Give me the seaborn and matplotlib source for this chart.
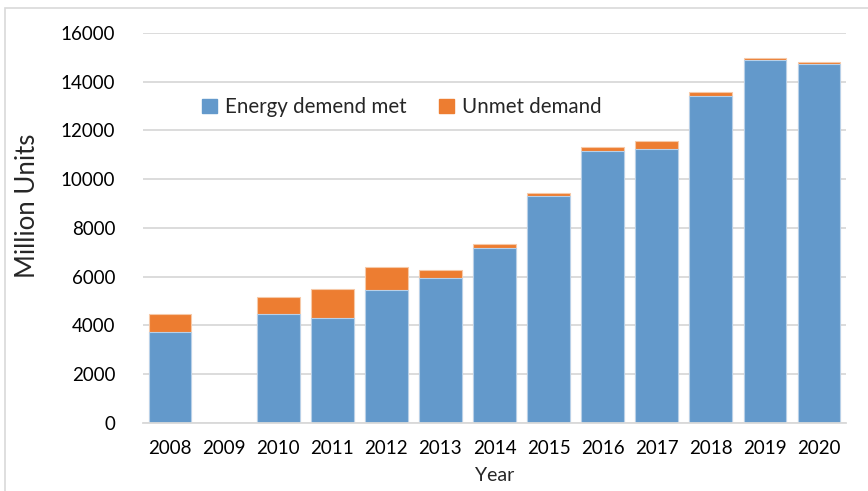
import matplotlib
matplotlib.use('Agg')
import matplotlib.pyplot as plt
import matplotlib.patches as mpatches
import seaborn as sns
import pandas as pd

years = ['2008', '2009', '2010', '2011', '2012', '2013', '2014',
         '2015', '2016', '2017', '2018', '2019', '2020']
demand_met = [3750, 0, 4480, 4320, 5470, 5950, 7180,
              9300, 11150, 11260, 13430, 14900, 14710]
unmet = [720, 0, 690, 1180, 930, 340, 175,
         140, 190, 300, 150, 60, 95]

blue = '#6399CB'
orange = '#ED7D31'

df = pd.DataFrame({'year': years, 'met': demand_met, 'unmet': unmet})
df['total'] = df['met'] + df['unmet']

sns.set_style('white')
plt.rcParams['font.family'] = ['Lato', 'DejaVu Sans']

fig = plt.figure(figsize=(8.68, 4.91), dpi=100)
ax = fig.add_axes([0.1647, 0.1385, 0.81, 0.7943])

# stacked: total first (orange), met on top of it (blue)
sns.barplot(data=df, x='year', y='total', color=orange, width=0.79,
            edgecolor='#F6C9A8', linewidth=0.8, saturation=1, ax=ax)
sns.barplot(data=df, x='year', y='met', color=blue, width=0.79,
            edgecolor='#B8D0E8', linewidth=0.8, saturation=1, ax=ax)

ax.set_ylim(0, 16000)
ax.set_xlim(-0.5, 12.5)
ax.set_yticks(range(0, 16001, 2000))
ax.yaxis.grid(True, color='#D9D9D9', linewidth=1.3)
ax.set_axisbelow(True)
for s in ['top', 'right', 'left']:
    ax.spines[s].set_visible(False)
ax.spines['bottom'].set_color('#D9D9D9')
ax.spines['bottom'].set_linewidth(1.3)
ax.tick_params(axis='both', length=0, labelsize=13.5, colors='black')
ax.tick_params(axis='x', pad=12)
ax.tick_params(axis='y', pad=20)

ax.set_xlabel('Year', fontsize=14)
ax.xaxis.set_label_coords(0.5, -0.113)
ax.set_ylabel('Million Units', fontsize=18.5)
ax.yaxis.set_label_coords(-0.147, 0.556)

handles = [mpatches.Patch(color=blue, label='Energy demend met'),
           mpatches.Patch(color=orange, label='Unmet demand')]
fig.legend(handles=handles, loc='center', bbox_to_anchor=(402 / 868, 1 - 107 / 491),
           ncol=2, frameon=False, fontsize=14.8, handlelength=0.7, handleheight=0.7,
           handletextpad=0.4, columnspacing=1.6)

# outer chart border
fig.patches.append(mpatches.Rectangle((5 / 868, -0.05), 1.1, 1 - 8 / 491 + 0.05,
                                      transform=fig.transFigure, fill=False,
                                      edgecolor='#D9D9D9', linewidth=1.2))

fig.savefig('out.png', dpi=100)
